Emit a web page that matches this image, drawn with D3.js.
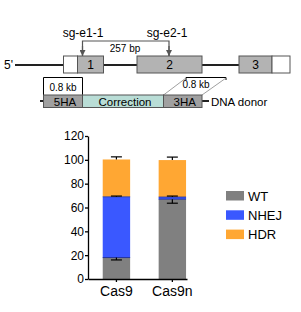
<!DOCTYPE html>
<html>
<head>
<meta charset="utf-8">
<script src="https://cdnjs.cloudflare.com/ajax/libs/d3/7.8.5/d3.min.js"></script>
<style>
  body { margin: 0; background: #fff; }
  svg text { font-family: Arial, "Liberation Sans", sans-serif; }
</style>
</head>
<body>
<div id="chart"></div>
<script>
// bar chart data
var groups = ["Cas9", "Cas9n"];
var seriesNames = ["WT", "NHEJ", "HDR"];
var wtValues = [18, 67];
var nhejValues = [51, 1.8];
var hdrValues = [31.3, 31];
var wtErr = [2, 3.4];
var nhejErr = [0.6, 0.8];
var hdrErr = [2.2, 2.5];
var yTicks = [0, 20, 40, 60, 80, 100, 120];

var colors = { WT: "#808080", NHEJ: "#3a58ff", HDR: "#ffa733" };

var svg = d3.select("#chart").append("svg")
  .attr("width", 301).attr("height", 312);

//---------- gene diagram ----------
var g = svg.append("g");

// backbone line
g.append("line").attr("x1", 15).attr("x2", 272).attr("y1", 65).attr("y2", 65)
  .attr("stroke", "#222").attr("stroke-width", 2);
g.append("text").attr("x", 4).attr("y", 69).attr("font-size", 12).text("5'");

// exons: [x, width, fill]
var exonParts = [
  [63.5, 14, "#fff"], [77.5, 26, "#b3b3b3"],
  [137, 65, "#b3b3b3"],
  [239, 33, "#b3b3b3"], [272, 18, "#fff"]
];
g.selectAll(".exon").data(exonParts).enter().append("rect")
  .attr("class", "exon")
  .attr("x", function(d) { return d[0]; })
  .attr("y", 56).attr("width", function(d) { return d[1]; }).attr("height", 17)
  .attr("fill", function(d) { return d[2]; })
  .attr("stroke", "#555").attr("stroke-width", 1);

var exonNums = [[90.5, "1"], [169.5, "2"], [255.5, "3"]];
g.selectAll(".exnum").data(exonNums).enter().append("text")
  .attr("x", function(d) { return d[0]; }).attr("y", 69)
  .attr("text-anchor", "middle").attr("font-size", 12).text(function(d) { return d[1]; });

// sgRNA bracket with arrows
svg.append("defs").append("marker").attr("id", "arr")
  .attr("viewBox", "0 0 10 10").attr("refX", 10).attr("refY", 5)
  .attr("markerWidth", 5).attr("markerHeight", 5).attr("orient", "auto")
  .append("path").attr("d", "M0,0L10,5L0,10z").attr("fill", "#555");

g.append("path").attr("d", "M82.5,56V41H169V56")
  .attr("fill", "none").attr("stroke", "#555").attr("stroke-width", 1.2);
g.append("line").attr("x1", 82.5).attr("x2", 82.5).attr("y1", 46).attr("y2", 56)
  .attr("stroke", "#555").attr("stroke-width", 1.2).attr("marker-end", "url(#arr)");
g.append("line").attr("x1", 169).attr("x2", 169).attr("y1", 46).attr("y2", 56)
  .attr("stroke", "#555").attr("stroke-width", 1.2).attr("marker-end", "url(#arr)");
g.append("text").attr("x", 83).attr("y", 37).attr("text-anchor", "middle").attr("font-size", 12).text("sg-e1-1");
g.append("text").attr("x", 167).attr("y", 37).attr("text-anchor", "middle").attr("font-size", 12).text("sg-e2-1");
g.append("text").attr("x", 125).attr("y", 52).attr("text-anchor", "middle").attr("font-size", 10).text("257 bp");

// left 0.8 kb bracket
g.append("path").attr("d", "M43.5,95V77.5H82.5V95")
  .attr("fill", "#fff").attr("stroke", "#000").attr("stroke-width", 1);
g.append("text").attr("x", 63).attr("y", 91).attr("text-anchor", "middle").attr("font-size", 10).text("0.8 kb");

// right 0.8 kb bracket
g.append("path").attr("d", "M186,80V77.5H226V80")
  .attr("fill", "none").attr("stroke", "#000").attr("stroke-width", 1);
g.append("line").attr("x1", 186).attr("y1", 78).attr("x2", 163.5).attr("y2", 95)
  .attr("stroke", "#888").attr("stroke-width", 0.8);
g.append("line").attr("x1", 226).attr("y1", 78).attr("x2", 202).attr("y2", 95)
  .attr("stroke", "#888").attr("stroke-width", 0.8);
g.append("text").attr("x", 196).attr("y", 88).attr("text-anchor", "middle").attr("font-size", 10).text("0.8 kb");

// donor
g.append("line").attr("x1", 40).attr("x2", 209).attr("y1", 101).attr("y2", 101)
  .attr("stroke", "#222").attr("stroke-width", 2);
var donor = [
  [43.5, 39, "#a0a0a0", "5HA"],
  [82.5, 81, "#b9ddd6", "Correction"],
  [163.5, 38.5, "#a0a0a0", "3HA"]
];
g.selectAll(".donor").data(donor).enter().append("rect")
  .attr("x", function(d) { return d[0]; }).attr("y", 95)
  .attr("width", function(d) { return d[1]; }).attr("height", 12.5)
  .attr("fill", function(d) { return d[2]; })
  .attr("stroke", "#555").attr("stroke-width", 1);
g.selectAll(".dlab").data(donor).enter().append("text")
  .attr("x", function(d) { return d[0] + d[1] / 2 + 2; }).attr("y", 105.5)
  .attr("text-anchor", "middle").attr("font-size", 11.5).text(function(d) { return d[3]; });
g.append("text").attr("x", 211).attr("y", 105.5).attr("font-size", 11.5).text("DNA donor");

//---------- stacked bar chart ----------
var x = d3.scaleBand().domain(groups).range([88, 187])
  .paddingInner(0.51).paddingOuter(0.14).align(0.94);
var y = d3.scaleLinear().domain([0, 120]).range([279, 136]);

var stackData = groups.map(function(grp, i) {
  return { group: grp, WT: wtValues[i], NHEJ: nhejValues[i], HDR: hdrValues[i] };
});
var stacked = d3.stack().keys(seriesNames)(stackData);

var bars = svg.append("g");
stacked.forEach(function(layer) {
  bars.selectAll(".b-" + layer.key).data(layer).enter().append("rect")
    .attr("x", function(d) { return x(d.data.group); })
    .attr("width", x.bandwidth())
    .attr("y", function(d) { return y(d[1]); })
    .attr("height", function(d) { return y(d[0]) - y(d[1]); })
    .attr("fill", colors[layer.key]);
});
// dark edge lines of the NHEJ segment
bars.selectAll(".nedge").data(stacked[1]).enter().append("line")
  .attr("x1", function(d) { return x(d.data.group); })
  .attr("x2", function(d) { return x(d.data.group) + x.bandwidth(); })
  .attr("y1", function(d) { return y(d[0]); })
  .attr("y2", function(d) { return y(d[0]); })
  .attr("stroke", "#23349a").attr("stroke-width", 1);
bars.selectAll(".nedge2").data(stacked[1]).enter().append("line")
  .attr("x1", function(d) { return x(d.data.group); })
  .attr("x2", function(d) { return x(d.data.group) + x.bandwidth(); })
  .attr("y1", function(d) { return y(d[1]); })
  .attr("y2", function(d) { return y(d[1]); })
  .attr("stroke", "#23349a").attr("stroke-width", 0.8);

// error bars: WT goes down, others up
var errs = [wtErr, nhejErr, hdrErr];
var errDir = [-1, 1, 1];
stacked.forEach(function(layer, k) {
  layer.forEach(function(d, i) {
    var cx = x(d.data.group) + x.bandwidth() / 2;
    var y0 = y(d[1]);
    var y1 = y(d[1] + errDir[k] * errs[k][i]);
    bars.append("line").attr("x1", cx).attr("x2", cx).attr("y1", y0).attr("y2", y1)
      .attr("stroke", "#000").attr("stroke-width", 1.2);
    bars.append("line").attr("x1", cx - 5.5).attr("x2", cx + 5.5).attr("y1", y1).attr("y2", y1)
      .attr("stroke", "#000").attr("stroke-width", 1.2);
  });
});

// axes
var yAxis = svg.append("g").attr("transform", "translate(88,0)")
  .call(d3.axisLeft(y).tickValues(yTicks).tickSize(3).tickPadding(1).tickSizeOuter(0));
var xAxis = svg.append("g").attr("transform", "translate(0,279)")
  .call(d3.axisBottom(x).tickSize(3).tickPadding(4).tickSizeOuter(0));
[yAxis, xAxis].forEach(function(a) {
  a.select(".domain").attr("stroke", "#000").attr("stroke-width", 1.3);
  a.selectAll(".tick line").attr("stroke", "#000").attr("stroke-width", 1.3);
  a.selectAll("text").attr("fill", "#000").style("font-family", "Arial, 'Liberation Sans', sans-serif");
});
yAxis.selectAll("text").attr("font-size", 12);
xAxis.selectAll("text").attr("font-size", 14);

// legend
var legend = svg.append("g").attr("transform", "translate(226,191)");
seriesNames.forEach(function(name, i) {
  legend.append("rect").attr("x", 0).attr("y", i * 19.3).attr("width", 18).attr("height", 9.5)
    .attr("fill", colors[name]);
  legend.append("text").attr("x", 22).attr("y", i * 19.3 + 9.5).attr("font-size", 13)
    .attr("fill", "#000").text(name);
});
</script>
</body>
</html>
